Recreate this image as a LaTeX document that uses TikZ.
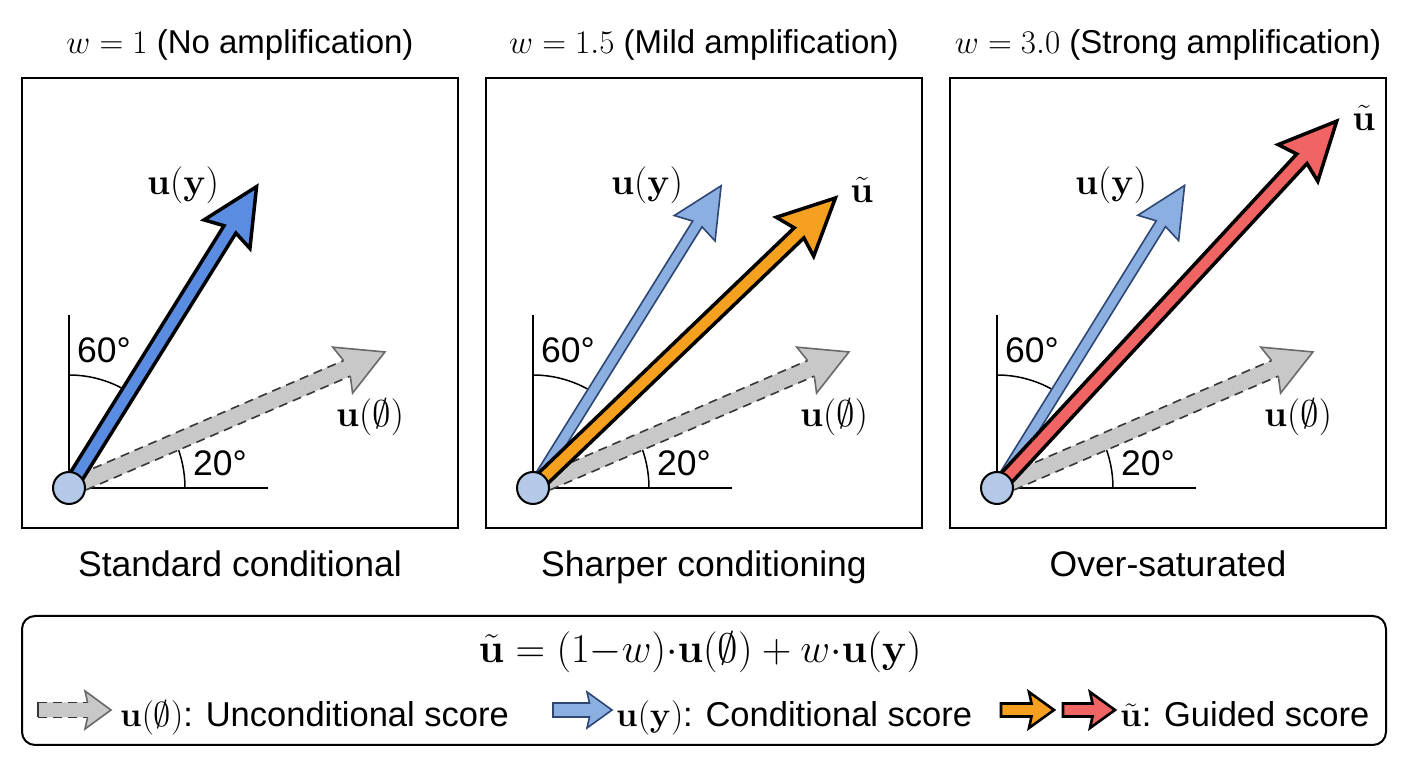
\RequirePackage{fix-cm}
\documentclass[tikz,border=0pt]{standalone}
\usepackage[no-math]{fontspec}
\setmainfont{Liberation Sans}
\usetikzlibrary{calc}
\definecolor{mainblue}{RGB}{90,140,225}
\definecolor{fadeblue}{RGB}{140,175,225}
\definecolor{fadeline}{RGB}{45,70,115}
\definecolor{orangeA}{RGB}{245,160,30}
\definecolor{redA}{RGB}{240,100,100}
\definecolor{grayfill}{RGB}{200,200,200}
\definecolor{grayline}{RGB}{55,55,55}
\definecolor{grayhead}{RGB}{105,105,105}
\definecolor{dotfill}{RGB}{180,200,232}
\newcommand\mytitlefont{\fontsize{33}{38}\selectfont}
\newcommand\mycapfont{\fontsize{35.5}{40}\selectfont}
\newcommand\mylabfont{\fontsize{37}{40}\selectfont}
\newcommand\myformfont{\fontsize{41}{46}\selectfont}
\newcommand\mylegfont{\fontsize{34.5}{40}\selectfont}
% block arrow: origin, angle, length, shaft half, head length, head half, style
\newcommand\blockarr[7]{%
  \begin{scope}[shift={(#1)},rotate=#2]
    \draw[#7] (0,-#4) -- ({#3-0.9*#5},-#4) -- ({#3-#5},-#6) -- (#3,0)
      -- ({#3-#5},#6) -- ({#3-0.9*#5},#4) -- (0,#4) -- cycle;
  \end{scope}}
% gray dashed arrow: origin, angle, length, shaft half, head length, head half
\newcommand\grayarr[6]{%
  \begin{scope}[shift={(#1)},rotate=#2]
    \fill[grayfill] (0,-#4) -- ({#3-0.9*#5},-#4) -- ({#3-#5},-#6) -- (#3,0)
      -- ({#3-#5},#6) -- ({#3-0.9*#5},#4) -- (0,#4) -- cycle;
    \draw[grayline,line width=1.6,dash pattern=on 9 off 6]
      (0,-#4) -- ({#3-0.9*#5},-#4) (0,#4) -- ({#3-0.9*#5},#4);
    \draw[grayhead,line width=1.6,line join=miter]
      ({#3-0.9*#5},-#4) -- ({#3-#5},-#6) -- (#3,0) -- ({#3-#5},#6) -- ({#3-0.9*#5},#4);
  \end{scope}}
\tikzset{
  mainarr/.style={fill=#1,draw=black,line width=3.5,line join=miter,miter limit=10},
  fadearr/.style={fill=fadeblue,draw=fadeline,line width=1.6,line join=miter},
  legmain/.style={fill=#1,draw=black,line width=2.6,line join=miter,miter limit=10},
  panelbox/.style={draw=black,line width=2},
  refline/.style={draw=black,line width=1.8},
  anglearc/.style={draw=black,line width=1.5},
  dot/.style={circle,fill=dotfill,draw=black,line width=2,minimum size=32,inner sep=0},
  titletext/.style={font=\mytitlefont,anchor=base,inner sep=0},
  captext/.style={font=\mycapfont,anchor=base,inner sep=0},
  labtext/.style={font=\mylabfont,inner sep=0},
  degtext/.style={font=\mycapfont,inner sep=0},
}
\begin{document}
\begin{tikzpicture}[x=1pt,y=1pt]
\useasboundingbox (0,0) rectangle (1408,768);
\fill[white] (0,0) rectangle (1408,768);

% ---------- common panel parts ----------
\foreach \k/\off/\ttl/\cap in {1/0/{$w=1$ (No amplification)}/{Standard conditional},
                                2/464/{$w=1.5$ (Mild amplification)}/{Sharper conditioning},
                                3/928/{$w=3.0$ (Strong amplification)}/{Over-saturated}}{
  \node[titletext] (T\k) at (240+\off,714) {\ttl};
  \node[captext] (C\k) at (240+\off,191) {\cap};
  \draw[panelbox] (22+\off,240) rectangle (458+\off,690);
  \coordinate (O\k) at (69+\off,280);
  \draw[refline] (O\k) -- ++(0,173);
  \draw[refline] (O\k) -- ++(199,0);
  \draw[anglearc] ([shift={(90:113)}]O\k) arc[start angle=90,end angle=58,radius=113];
  \draw[anglearc] ([shift={(0:116)}]O\k) arc[start angle=0,end angle=23.3,radius=116];
  \node[degtext] (A\k) at ([shift={(35,138)}]O\k) {60°};
  \node[degtext] (B\k) at ([shift={(151,25)}]O\k) {20°};
  \grayarr{O\k}{23.3}{344}{8.5}{46}{25}
  \node[labtext] (LN\k) at ([shift={(301,71)}]O\k) {$\mathbf{u}(\emptyset)$};
  \node[labtext] (LY\k) at ([shift={(114,303)}]O\k) {$\mathbf{u}(\mathbf{y})$};
}

% ---------- panel 1 ----------
\blockarr{O1}{58.1}{355}{7}{56}{27}{mainarr=mainblue}
% ---------- panel 2 ----------
\blockarr{O2}{58.1}{356}{5.5}{50}{24}{fadearr}
\blockarr{O2}{43.8}{419}{7}{56}{27}{mainarr=orangeA}
\node[labtext] (LU2) at ([shift={(329,298)}]O2) {$\tilde{\mathbf{u}}$};
% ---------- panel 3 ----------
\blockarr{O3}{58.2}{356}{5.5}{50}{24}{fadearr}
\blockarr{O3}{47.2}{500}{7}{57}{27}{mainarr=redA}
\node[labtext] (LU3) at ([shift={(367,370)}]O3) {$\tilde{\mathbf{u}}$};

% origin dots on top
\foreach \k in {1,2,3}{ \node[dot] (D\k) at (O\k) {}; }

% ---------- legend ----------
\draw[line width=2,rounded corners=13] (22,23) rectangle (1386,152);
\node[font=\myformfont,inner sep=0] (F) at (700,116)
  {$\tilde{\mathbf{u}} = (1{-}w){\cdot}\mathbf{u}(\emptyset) + w{\cdot}\mathbf{u}(\mathbf{y})$};

\coordinate (G0) at (38,58);
\grayarr{G0}{0}{73}{7.5}{26}{19}
\draw[grayline,line width=1.6] (38,50.5) -- (38,65.5);
\node[font=\mylegfont,anchor=base west,inner sep=0] (GT) at (120,41) {$\mathbf{u}(\emptyset)$: Unconditional score};

\coordinate (B0) at (553,58);
\blockarr{B0}{0}{59}{7}{25}{18}{fadearr}
\node[font=\mylegfont,anchor=base west,inner sep=0] (BT) at (616,41) {$\mathbf{u}(\mathbf{y})$: Conditional score};

\coordinate (R0) at (1001,58);
\blockarr{R0}{0}{53}{6.5}{25}{18}{legmain=orangeA}
\coordinate (R1) at (1063,58);
\blockarr{R1}{0}{52}{6.5}{25}{18}{legmain=redA}
\node[font=\mylegfont,anchor=base west,inner sep=0] (RT) at (1120,41) {$\tilde{\mathbf{u}}$: Guided score};
\end{tikzpicture}
\end{document}
